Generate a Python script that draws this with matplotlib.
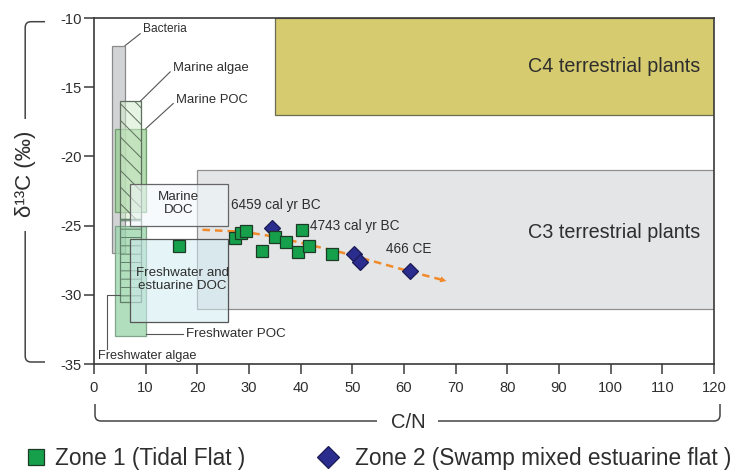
"""
plot.py
=======
d13C vs C/N source-field diagram with Zone 1 / Zone 2 sediment samples.
Writes out.png (735x472 px).
"""

import matplotlib

matplotlib.use("Agg")
import matplotlib.pyplot as plt
from matplotlib.lines import Line2D
from matplotlib.patches import PathPatch, Rectangle
from matplotlib.path import Path


# --- data -------------------------------------------------------------------
# source fields: C/N range and d13C range
field_names = ["C4", "C3", "Bacteria", "Marine POC", "Marine algae",
               "Freshwater POC", "Freshwater algae", "Marine DOC",
               "Freshwater DOC"]
cn_lo   = [35.0, 20.0, 3.5, 4.0, 5.0, 4.0, 5.0, 7.0, 7.0]
cn_hi   = [120.0, 120.0, 6.0, 10.0, 9.0, 10.0, 9.0, 26.0, 26.0]
d13c_lo = [-17.0, -31.0, -27.0, -24.0, -24.5, -33.0, -30.5, -25.0, -32.0]
d13c_hi = [-10.0, -21.0, -12.0, -18.0, -16.0, -25.0, -24.5, -22.0, -26.0]

zone1_cn   = [16.4, 27.3, 28.4, 29.5, 32.5, 35.0, 37.2, 39.5, 40.2, 41.7, 46.1]
zone1_d13c = [-26.45, -25.9, -25.55, -25.4, -26.8, -25.8, -26.2, -26.9,
              -25.35, -26.5, -27.05]

zone2_cn   = [34.5, 50.4, 51.5, 61.1]
zone2_d13c = [-25.2, -27.05, -27.65, -28.3]

trend_cn   = [21.0, 29.0, 35.0, 48.0, 61.0, 68.2]
trend_d13c = [-25.3, -25.45, -25.8, -26.95, -28.3, -29.0]

x_ticks = list(range(0, 121, 10))
y_ticks = [-35, -30, -25, -20, -15, -10]


plt.rcParams["font.family"] = ["Liberation Sans", "DejaVu Sans"]
plt.rcParams["axes.unicode_minus"] = False
plt.rcParams["hatch.linewidth"] = 0.7

TXT = "#2e2e2e"
W, H = 735, 472


def fx(px):
    return px / W


def fy(py):
    return 1 - py / H


# face (rgba) / edge / hatch / zorder per field
STYLE = {
    "C4":               dict(fc="#d6cb6f", ec="#6b6a52", hatch=None, z=1),
    "C3":               dict(fc="#e3e5e7", ec="#8f8f8f", hatch=None, z=1),
    "Bacteria":         dict(fc="#d2d3d5", ec="#8a8a8a", hatch=None, z=2),
    "Marine POC":       dict(fc=(0.60, 0.81, 0.58, 0.75), ec="#6f9f6c", hatch=None, z=3),
    "Marine algae":     dict(fc=(0.82, 0.92, 0.80, 0.55), ec="#5d6f5c", hatch="\\\\", z=3.1),
    "Freshwater POC":   dict(fc=(0.62, 0.84, 0.68, 0.8), ec="#7fa58a", hatch=None, z=3),
    "Freshwater algae": dict(fc="none", ec="#5f7f68", hatch="--", z=3.2),
    "Marine DOC":       dict(fc=(0.94, 0.97, 0.98, 0.6), ec="#666666", hatch=None, z=3.5),
    "Freshwater DOC":   dict(fc=(0.82, 0.92, 0.95, 0.55), ec="#555555", hatch=None, z=3.5),
}


fig = plt.figure(figsize=(W / 100, H / 100), dpi=100)
ax = fig.add_axes([fx(94), fy(364), fx(714) - fx(94), fy(18) - fy(364)])

for name, x0, x1, y0, y1 in zip(field_names, cn_lo, cn_hi, d13c_lo, d13c_hi):
    st = STYLE[name]
    ax.add_patch(Rectangle((x0, y0), x1 - x0, y1 - y0, facecolor=st["fc"],
                           edgecolor=st["ec"], hatch=st["hatch"], lw=0.9,
                           zorder=st["z"]))

# trend line with arrow head
ax.plot(trend_cn, trend_d13c, color="#f08a2a", lw=1.8, ls=(0, (3.0, 2.0)),
        zorder=4)
ax.annotate("", xy=(trend_cn[-1], trend_d13c[-1]),
            xytext=(trend_cn[-2], trend_d13c[-2]),
            arrowprops=dict(arrowstyle="-|>", color="#f08a2a", lw=0,
                            mutation_scale=11, shrinkA=0, shrinkB=0),
            zorder=4)

sq = dict(marker="s", ls="none", ms=9, mfc="#17a04c", mec="#1c3a26", mew=0.9)
dm = dict(marker="D", ls="none", ms=8.5, mfc="#2b2d8e", mec="#1a1b55", mew=0.9)
ax.plot(zone2_cn, zone2_d13c, zorder=5, **dm)
ax.plot(zone1_cn, zone1_d13c, zorder=6, **sq)

# field labels
ax.text(117.3, -13.5, "C4 terrestrial plants", ha="right", va="center",
        fontsize=14.2, color=TXT, zorder=7)
ax.text(117.3, -25.5, "C3 terrestrial plants", ha="right", va="center",
        fontsize=14.2, color=TXT, zorder=7)
ax.text(16.4, -23.4, "Marine\nDOC", ha="center", va="center",
        fontsize=9.6, color=TXT, linespacing=1.1, zorder=7)
ax.text(17.1, -28.9, "Freshwater and\nestuarine DOC", ha="center",
        va="center", fontsize=9.6, color=TXT, linespacing=1.1, zorder=7)

lead = dict(arrowstyle="-", color="#555555", lw=0.8, shrinkA=0, shrinkB=0)
ax.annotate("Bacteria", xy=(6.0, -12.0), xytext=(9.5, -10.8),
            va="center", fontsize=8.6, color=TXT,
            arrowprops=dict(relpos=(0, 0.3), **lead), zorder=7)
ax.annotate("Marine algae", xy=(9.0, -16.0), xytext=(15.3, -13.6),
            va="center", fontsize=9.4, color=TXT,
            arrowprops=dict(relpos=(0, 0.4), **lead), zorder=7)
ax.annotate("Marine POC", xy=(10.0, -18.0), xytext=(15.9, -15.9),
            va="center", fontsize=9.4, color=TXT,
            arrowprops=dict(relpos=(0, 0.4), **lead), zorder=7)

ax.plot([10.0, 17.2], [-32.8, -32.8], color="#555555", lw=0.8, zorder=7)
ax.text(17.8, -32.8, "Freshwater POC", va="center", fontsize=9.6,
        color=TXT, zorder=7)
ax.plot([2.6, 2.6, 5.0], [-33.9, -30.0, -30.0], color="#555555", lw=0.8,
        zorder=7)
ax.text(0.8, -34.4, "Freshwater algae", va="center", fontsize=9.2,
        color=TXT, zorder=7)

# sample age labels
ax.text(26.6, -23.5, "6459 cal yr BC", va="center", fontsize=9.8,
        color=TXT, zorder=7)
ax.text(41.9, -25.0, "4743 cal yr BC", va="center", fontsize=9.8,
        color=TXT, zorder=7)
ax.text(56.5, -26.7, "466 CE", va="center", fontsize=9.8,
        color=TXT, zorder=7)

# axes
ax.set_xlim(0, 120)
ax.set_ylim(-35, -10)
ax.set_xticks(x_ticks)
ax.set_xticklabels([str(v) for v in x_ticks])
ax.set_yticks(y_ticks)
ax.set_yticklabels([str(v) for v in y_ticks])
ax.tick_params(axis="both", direction="out", length=7, width=1.1,
               colors="#3a3a3a", labelsize=10.6, labelcolor=TXT)
ax.tick_params(axis="x", pad=5)
ax.tick_params(axis="y", pad=2)
for sp in ax.spines.values():
    sp.set_color("#3a3a3a")
    sp.set_linewidth(1.2)


# bracket-style axis titles
def bracket(segments):
    verts, codes = [], []
    for seg in segments:
        for code, pt in seg:
            verts.append((fx(pt[0]), fy(pt[1])))
            codes.append(code)
    fig.add_artist(PathPatch(Path(verts, codes), transform=fig.transFigure,
                             fc="none", ec="#444444", lw=1.1))


M, L, C = Path.MOVETO, Path.LINETO, Path.CURVE3
bracket([
    [(M, (45, 21.7)), (L, (31, 21.7)), (C, (25.2, 21.7)), (C, (25.2, 27.5)),
     (L, (25.2, 119))],
    [(M, (25.2, 231)), (L, (25.2, 356)), (C, (25.2, 362)), (C, (31, 362)),
     (L, (45, 362))],
    [(M, (95, 404)), (L, (95, 415)), (C, (95, 421)), (C, (101, 421)),
     (L, (377, 421))],
    [(M, (438, 421)), (L, (714, 421)), (C, (720, 421)), (C, (720, 415)),
     (L, (720, 404))],
])
fig.text(fx(25), fy(174), "δ¹³C (‰)", rotation=90, ha="center", va="center",
         fontsize=16, color=TXT)
fig.text(fx(408), fy(423), "C/N", ha="center", va="center",
         fontsize=14.5, color=TXT)

# legend
h1 = Line2D([], [], **dict(sq, ms=11))
h2 = Line2D([], [], **dict(dm, ms=11.5))
leg_kw = dict(frameon=False, fontsize=16.3, borderpad=0, borderaxespad=0,
              handlelength=0.8, loc="center left")
leg1 = fig.legend([h1], ["Zone 1 (Tidal Flat )"], handletextpad=0.46,
                  bbox_to_anchor=(fx(26.5), fy(458)), **leg_kw)
leg2 = fig.legend([h2], ["Zone 2 (Swamp mixed estuarine flat )"],
                  handletextpad=0.8, bbox_to_anchor=(fx(319), fy(458)),
                  **leg_kw)
for leg in (leg1, leg2):
    for t in leg.get_texts():
        t.set_color(TXT)

fig.savefig("out.png", dpi=100)
